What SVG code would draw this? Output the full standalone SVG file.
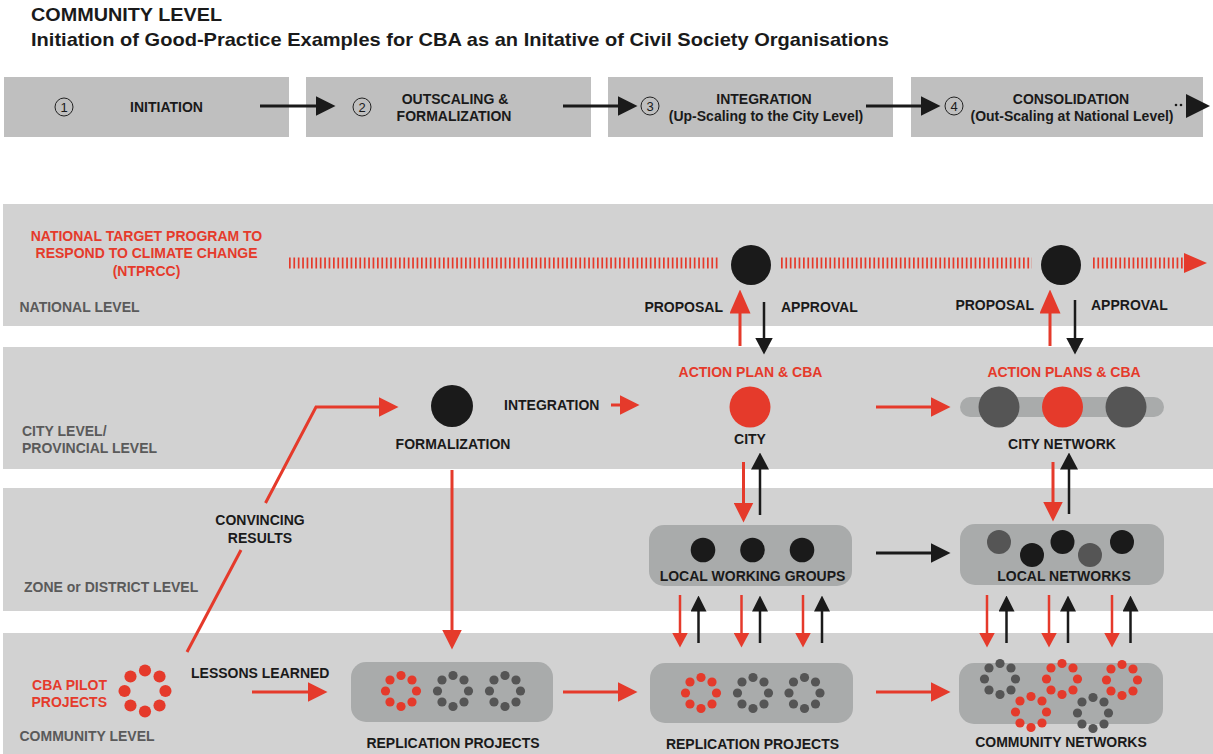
<svg xmlns="http://www.w3.org/2000/svg" width="1213" height="754" viewBox="0 0 1213 754">
<style>
text{font-family:"Liberation Sans",Arial,sans-serif;font-weight:bold;font-size:14px;fill:#1a1a1a}
.t{font-size:19px}
.red{fill:#e53a2b}
.lvl{fill:#5a5a5a}
.mid{text-anchor:middle}
.end{text-anchor:end}
.num{font-weight:normal;font-size:13px;text-anchor:middle}
.band{fill:#d2d2d2}
.phase{fill:#bfbfbf}
.box{fill:#a9abab}
.rl{stroke:#e53a2b;stroke-width:3;fill:none}
.bl{stroke:#1a1a1a;stroke-width:3;fill:none}
.rs{stroke:#e53a2b;stroke-width:2.5;fill:none}
.bs{stroke:#1a1a1a;stroke-width:2.5;fill:none}
.tick{stroke:#e53a2b;stroke-width:11;stroke-dasharray:1.7 2.7;fill:none}
.cn{fill:none;stroke:#222;stroke-width:1}
</style>
<defs>
<marker id="rL" markerUnits="userSpaceOnUse" viewBox="0 0 20 20" refX="0.5" refY="10" markerWidth="20" markerHeight="20" orient="auto"><path d="M0,0L20,10L0,20z" fill="#e53a2b"/></marker>
<marker id="rP" markerUnits="userSpaceOnUse" viewBox="0 0 24 21" refX="0.5" refY="10.5" markerWidth="24" markerHeight="21" orient="auto"><path d="M0,0L24,10.5L0,21z" fill="#e53a2b"/></marker>
<marker id="rS" markerUnits="userSpaceOnUse" viewBox="0 0 15 16" refX="0.5" refY="8" markerWidth="15" markerHeight="16" orient="auto"><path d="M0,0L15,8L0,16z" fill="#e53a2b"/></marker>
<marker id="bL" markerUnits="userSpaceOnUse" viewBox="0 0 20 20" refX="0.5" refY="10" markerWidth="20" markerHeight="20" orient="auto"><path d="M0,0L20,10L0,20z" fill="#1a1a1a"/></marker>
<marker id="bM" markerUnits="userSpaceOnUse" viewBox="0 0 17 18" refX="0.5" refY="9" markerWidth="17" markerHeight="18" orient="auto"><path d="M0,0L17,9L0,18z" fill="#1a1a1a"/></marker>
<marker id="bS" markerUnits="userSpaceOnUse" viewBox="0 0 16 16" refX="0.5" refY="8" markerWidth="16" markerHeight="16" orient="auto"><path d="M0,0L16,8L0,16z" fill="#1a1a1a"/></marker>
<g id="ring">
<circle cx="0" cy="-15.5" r="4.6"/><circle cx="11" cy="-11" r="4.6"/><circle cx="15.5" cy="0" r="4.6"/><circle cx="11" cy="11" r="4.6"/>
<circle cx="0" cy="15.5" r="4.6"/><circle cx="-11" cy="11" r="4.6"/><circle cx="-15.5" cy="0" r="4.6"/><circle cx="-11" cy="-11" r="4.6"/>
</g>
</defs>
<rect width="1213" height="754" fill="#ffffff"/>

<g id="title">
<text class="t" x="31" y="21" textLength="191" lengthAdjust="spacingAndGlyphs">COMMUNITY LEVEL</text>
<text class="t" x="31" y="46" textLength="858" lengthAdjust="spacingAndGlyphs">Initiation of Good-Practice Examples for CBA as an Initative of Civil Society Organisations</text>
</g>

<g id="phase1"><rect class="phase" x="4" y="77" width="285" height="60"/><circle class="cn" cx="64" cy="107" r="9"/><text class="num" x="64" y="112">1</text><text class="mid" x="166.5" y="112">INITIATION</text></g>
<g id="phase2"><rect class="phase" x="306" y="77" width="285" height="60"/><circle class="cn" cx="362" cy="107" r="9"/><text class="num" x="362" y="112">2</text><text class="mid" x="455" y="104">OUTSCALING &amp;</text><text class="mid" x="454" y="121">FORMALIZATION</text></g>
<g id="phase3"><rect class="phase" x="608" y="77" width="285" height="60"/><circle class="cn" cx="650" cy="106" r="9"/><text class="num" x="650" y="111">3</text><text class="mid" x="764" y="104">INTEGRATION</text><text class="mid" x="766" y="121">(Up-Scaling to the City Level)</text></g>
<g id="phase4"><rect class="phase" x="911" y="77" width="292" height="60"/><circle class="cn" cx="954" cy="106" r="9"/><text class="num" x="954" y="111">4</text><text class="mid" x="1071" y="104">CONSOLIDATION</text><text class="mid" x="1072" y="121">(Out-Scaling at National Level)</text><circle cx="1176" cy="105" r="1.3" fill="#1a1a1a"/><circle cx="1181" cy="105" r="1.3" fill="#1a1a1a"/></g>

<g id="bands">
<rect class="band" x="3" y="204" width="1210" height="122"/>
<rect class="band" x="3" y="347" width="1210" height="122"/>
<rect class="band" x="3" y="488" width="1210" height="123"/>
<rect class="band" x="3" y="633" width="1210" height="121"/>
</g>

<g id="national">
<text class="red mid" x="146.5" y="241">NATIONAL TARGET PROGRAM TO</text>
<text class="red mid" x="146.5" y="258">RESPOND TO CLIMATE CHANGE</text>
<text class="red mid" x="146.5" y="276">(NTPRCC)</text>
<text class="lvl" x="19.5" y="312">NATIONAL LEVEL</text>
<circle cx="751" cy="265" r="20" fill="#1a1a1a"/>
<circle cx="1061" cy="265" r="20" fill="#1a1a1a"/>
<text class="end" x="723" y="312">PROPOSAL</text>
<text x="781" y="312">APPROVAL</text>
<text class="end" x="1034" y="310">PROPOSAL</text>
<text x="1091" y="310">APPROVAL</text>
</g>

<g id="city">
<text class="lvl" x="22" y="436">CITY LEVEL/</text>
<text class="lvl" x="22" y="453">PROVINCIAL LEVEL</text>
<circle cx="452" cy="406" r="21" fill="#1a1a1a"/>
<text class="mid" x="453" y="449">FORMALIZATION</text>
<text x="504" y="410">INTEGRATION</text>
<text class="red mid" x="750.5" y="377">ACTION PLAN &amp; CBA</text>
<circle cx="750" cy="407" r="20.5" fill="#e53a2b"/>
<text class="mid" x="750" y="444">CITY</text>
</g>

<g id="city-network">
<text class="red mid" x="1064" y="377">ACTION PLANS &amp; CBA</text>
<rect class="box" x="960" y="397" width="204" height="20" rx="10"/>
<circle cx="999" cy="407" r="20.5" fill="#555555"/>
<circle cx="1062.5" cy="407" r="20.5" fill="#e53a2b"/>
<circle cx="1126" cy="407" r="20.5" fill="#555555"/>
<text class="mid" x="1062" y="449">CITY NETWORK</text>
</g>

<g id="zone">
<text class="lvl" x="24" y="592">ZONE or DISTRICT LEVEL</text>
<text class="mid" x="260" y="525">CONVINCING</text>
<text class="mid" x="260" y="543">RESULTS</text>
</g>

<g id="local-working-groups">
<rect class="box" x="649" y="525" width="203" height="61" rx="15"/>
<circle cx="703" cy="550" r="12.3" fill="#1a1a1a"/>
<circle cx="752.5" cy="550" r="12.3" fill="#1a1a1a"/>
<circle cx="802" cy="550" r="12.3" fill="#1a1a1a"/>
<text class="mid" x="752.5" y="581">LOCAL WORKING GROUPS</text>
</g>

<g id="local-networks">
<rect class="box" x="960" y="524" width="204" height="61" rx="15"/>
<circle cx="999" cy="542" r="12" fill="#555555"/>
<circle cx="1032" cy="555" r="12" fill="#1a1a1a"/>
<circle cx="1062.5" cy="542" r="12" fill="#1a1a1a"/>
<circle cx="1090" cy="555" r="12" fill="#555555"/>
<circle cx="1122" cy="542" r="12" fill="#1a1a1a"/>
<text class="mid" x="1064" y="581">LOCAL NETWORKS</text>
</g>

<g id="pilot">
<use href="#ring" transform="translate(145,691) scale(1.32)" fill="#e53a2b"/>
<text class="red end" x="107" y="690">CBA PILOT</text>
<text class="red end" x="107" y="707">PROJECTS</text>
<text class="lvl" x="19.5" y="741">COMMUNITY LEVEL</text>
<text x="191" y="678">LESSONS LEARNED</text>
</g>

<g id="replication1">
<rect class="box" x="351" y="662" width="202" height="60" rx="15"/>
<use href="#ring" x="401" y="691" fill="#e53a2b"/>
<use href="#ring" x="453" y="691" fill="#555555"/>
<use href="#ring" x="505" y="691" fill="#555555"/>
<text class="mid" x="453" y="748">REPLICATION PROJECTS</text>
</g>

<g id="replication2">
<rect class="box" x="650" y="663" width="203" height="60" rx="15"/>
<use href="#ring" x="701" y="693" fill="#e53a2b"/>
<use href="#ring" x="753" y="693" fill="#555555"/>
<use href="#ring" x="804.5" y="693" fill="#555555"/>
<text class="mid" x="752.5" y="749">REPLICATION PROJECTS</text>
</g>

<g id="community-networks">
<rect class="box" x="959" y="663" width="204" height="61" rx="15"/>
<use href="#ring" x="1000" y="679" fill="#555555"/>
<use href="#ring" x="1062" y="679" fill="#e53a2b"/>
<use href="#ring" x="1122" y="680" fill="#e53a2b"/>
<use href="#ring" x="1031" y="712" fill="#e53a2b"/>
<use href="#ring" x="1093" y="713" fill="#555555"/>
<text class="mid" x="1061" y="747">COMMUNITY NETWORKS</text>
</g>

<g id="connectors">
<line class="bl" x1="260" y1="106" x2="316" y2="106" marker-end="url(#bL)"/>
<line class="bl" x1="563" y1="106" x2="618" y2="106" marker-end="url(#bL)"/>
<line class="bl" x1="866" y1="106" x2="921" y2="106" marker-end="url(#bL)"/>
<path d="M1186,94L1210,106L1186,118z" fill="#1a1a1a"/>

<line class="tick" x1="289" y1="263" x2="720" y2="263"/>
<line class="tick" x1="781" y1="263" x2="1032" y2="263"/>
<line class="tick" x1="1093" y1="263" x2="1185" y2="263"/>
<path d="M1184,253L1207,263L1184,273z" fill="#e53a2b"/>

<line class="rl" x1="740" y1="346" x2="740" y2="313" marker-end="url(#rP)"/>
<line class="bs" x1="764" y1="302" x2="764" y2="338" marker-end="url(#bM)"/>
<line class="rl" x1="1050" y1="346" x2="1050" y2="313" marker-end="url(#rP)"/>
<line class="bs" x1="1075" y1="300" x2="1075" y2="338" marker-end="url(#bM)"/>

<line class="rl" x1="187" y1="652" x2="241" y2="550"/>
<polyline class="rl" points="265.5,503 316,407 379,407" marker-end="url(#rL)"/>
<line class="rl" x1="611" y1="405" x2="620" y2="405" marker-end="url(#rL)"/>
<line class="rl" x1="876" y1="407" x2="931" y2="407" marker-end="url(#rL)"/>
<line class="rl" x1="452" y1="470" x2="452" y2="630" marker-end="url(#rL)"/>

<line class="rl" x1="743.5" y1="462" x2="743.5" y2="503" marker-end="url(#rL)"/>
<line class="bs" x1="760" y1="515" x2="760" y2="469" marker-end="url(#bM)"/>
<line class="rl" x1="1053" y1="462" x2="1053" y2="502" marker-end="url(#rL)"/>
<line class="bs" x1="1069" y1="514" x2="1069" y2="469" marker-end="url(#bM)"/>

<line class="bl" x1="876" y1="553" x2="931" y2="553" marker-end="url(#bL)"/>

<line class="rs" x1="680" y1="595" x2="680" y2="633" marker-end="url(#rS)"/>
<line class="rs" x1="741.5" y1="595" x2="741.5" y2="633" marker-end="url(#rS)"/>
<line class="rs" x1="803" y1="595" x2="803" y2="633" marker-end="url(#rS)"/>
<line class="bs" x1="698.5" y1="643" x2="698.5" y2="611" marker-end="url(#bS)"/>
<line class="bs" x1="760" y1="643" x2="760" y2="611" marker-end="url(#bS)"/>
<line class="bs" x1="822" y1="643" x2="822" y2="611" marker-end="url(#bS)"/>
<line class="rs" x1="987" y1="595" x2="987" y2="633" marker-end="url(#rS)"/>
<line class="rs" x1="1049" y1="595" x2="1049" y2="633" marker-end="url(#rS)"/>
<line class="rs" x1="1112" y1="595" x2="1112" y2="633" marker-end="url(#rS)"/>
<line class="bs" x1="1006.5" y1="643" x2="1006.5" y2="611" marker-end="url(#bS)"/>
<line class="bs" x1="1068" y1="643" x2="1068" y2="611" marker-end="url(#bS)"/>
<line class="bs" x1="1130.5" y1="643" x2="1130.5" y2="611" marker-end="url(#bS)"/>

<line class="rl" x1="252" y1="692" x2="308" y2="692" marker-end="url(#rL)"/>
<line class="rl" x1="563" y1="692" x2="618" y2="692" marker-end="url(#rL)"/>
<line class="rl" x1="876" y1="692" x2="931" y2="692" marker-end="url(#rL)"/>
</g>
</svg>
